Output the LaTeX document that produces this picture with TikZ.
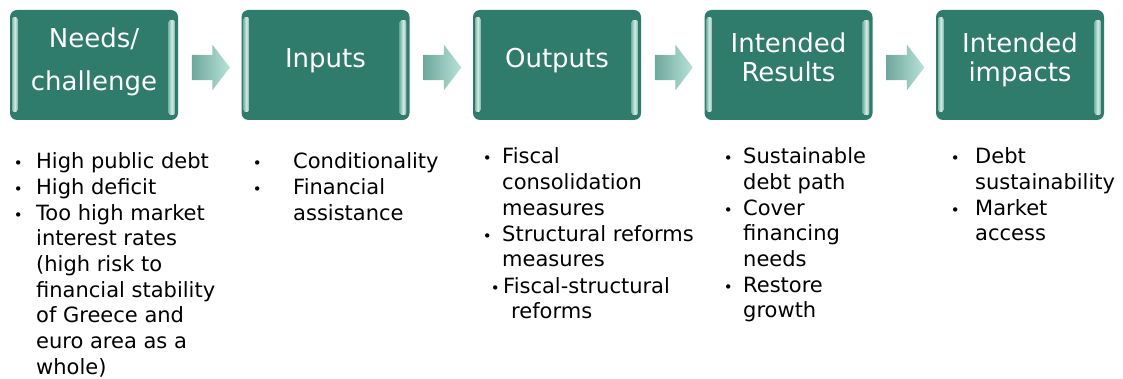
\documentclass[tikz,border=0pt]{standalone}
\usepackage{fontspec}
\setmainfont{DejaVu Sans}
\usetikzlibrary{shapes.arrows}
\definecolor{boxteal}{RGB}{47,123,108}
\definecolor{edgelight}{RGB}{168,216,205}
\definecolor{arrowlight}{RGB}{185,226,217}
\definecolor{arrowdark}{RGB}{110,168,156}
\newcommand{\itembullet}[1]{\llap{{\fontsize{15}{15}\selectfont •}\hspace*{#1}}}
\begin{document}
\begin{tikzpicture}[x=1pt,y=-1pt,
    stage/.style={rectangle, rounded corners=7pt, fill=boxteal, minimum width=168pt, minimum height=110pt, inner sep=0pt},
    stagelabel/.style={anchor=base, align=center, text=white, inner sep=0pt, font=\fontsize{26}{29}\selectfont},
    flow/.style={single arrow, single arrow head extend=10pt, single arrow tip angle=105, inner xsep=0pt, inner ysep=12.5pt, minimum height=38pt, left color=arrowdark, right color=arrowlight},
    point/.style={anchor=base west, align=left, inner sep=0pt, font=\fontsize{21}{25.7}\selectfont}]
  \useasboundingbox (0,0) rectangle (1123,379);
  % stages
  \node[stage] (needs) at (94,65) {};
  \node[stage] (inputs) at (325.5,65) {};
  \node[stage] (outputs) at (557,65) {};
  \node[stage] (results) at (788.5,65) {};
  \node[stage] (impacts) at (1020,65) {};
  \foreach \s in {needs,inputs,outputs,results,impacts} {
    \fill[rounded corners=2.5pt, left color=edgelight!60!boxteal, right color=edgelight!60!boxteal, middle color=edgelight!50!white]
      ([xshift=2pt,yshift=-7pt]\s.north west) rectangle ([xshift=8pt,yshift=8pt]\s.south west);
    \fill[rounded corners=2.5pt, left color=edgelight!60!boxteal, right color=edgelight!60!boxteal, middle color=edgelight!50!white]
      ([xshift=-10pt,yshift=-10pt]\s.north east) rectangle ([xshift=-3pt,yshift=5pt]\s.south east);
  }
  % labels sit on the baseline of their last line
  \node[stagelabel] (needs-t) at (94,91) {Needs/\\[14pt]challenge};
  \node[stagelabel] (inputs-t) at (325.5,68) {Inputs};
  \node[stagelabel] (outputs-t) at (557,68) {Outputs};
  \node[stagelabel] (results-t) at (788.5,82) {Intended\\Results};
  \node[stagelabel] (impacts-t) at (1020,82) {Intended\\impacts};
  % arrows between stages
  \node[flow] (a1) at (206,67.5) {};
  \node[flow] (a2) at (437.5,67.5) {};
  \node[flow] (a3) at (669,67.5) {};
  \node[flow] (a4) at (900.5,67.5) {};
  % bullet lists
  \node[point] (needs-1) at (36,169) {\itembullet{13.6pt}High public debt};
  \node[point] (needs-2) at (36,195) {\itembullet{13.6pt}High deficit};
  \node[point] (needs-3) at (36,374.2) {\itembullet{13.6pt}Too high market\\interest rates\\(high risk to\\financial stability\\of Greece and\\euro area as a\\whole)};
  \node[point] (inputs-1) at (293,169) {\itembullet{31.6pt}Conditionality};
  \node[point] (inputs-2) at (293,220.7) {\itembullet{31.6pt}Financial\\assistance};
  \node[point] (outputs-1) at (502,215.4) {\itembullet{10.6pt}Fiscal\\consolidation\\measures};
  \node[point] (outputs-2) at (502,266.7) {\itembullet{10.6pt}Structural reforms\\measures};
  \node[point] (outputs-3) at (503,318.7) {\itembullet{3.6pt}Fiscal-structural\\\hspace*{8pt}reforms};
  \node[point] (results-1) at (743,189.7) {\itembullet{10.6pt}Sustainable\\debt path};
  \node[point] (results-2) at (743,266.4) {\itembullet{10.6pt}Cover\\financing\\needs};
  \node[point] (results-3) at (743,317.7) {\itembullet{10.6pt}Restore\\growth};
  \node[point] (impacts-1) at (975,189.7) {\itembullet{15.6pt}Debt\\sustainability};
  \node[point] (impacts-2) at (975,240.7) {\itembullet{15.6pt}Market\\access};
\end{tikzpicture}
\end{document}
